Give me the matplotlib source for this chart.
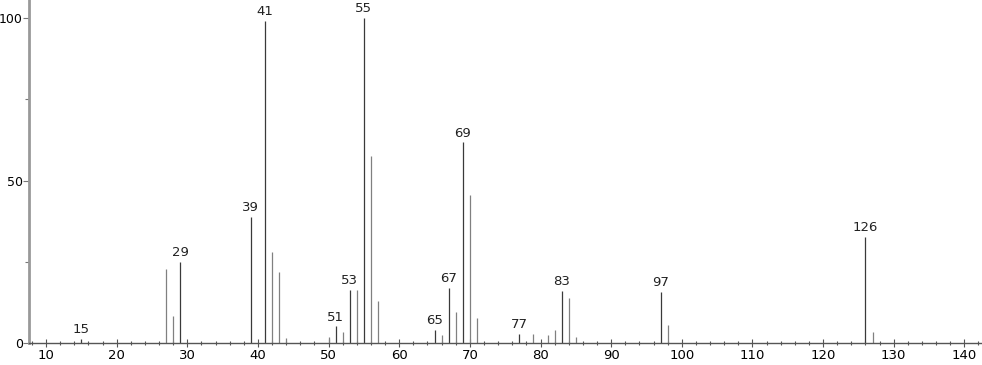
import matplotlib

matplotlib.use("Agg")

import matplotlib.pyplot as plt
from matplotlib.ticker import MultipleLocator

# mass spectrum peaks (m/z, relative intensity)
mz = [15, 27, 28, 29, 39, 41, 42, 43, 44, 50, 51, 52, 53, 54, 55, 56, 57,
      65, 66, 67, 68, 69, 70, 71, 77, 79, 81, 82, 83, 84, 85, 97, 98, 126, 127]
intensity = [1.3, 23.0, 8.3, 25.0, 39.0, 99.2, 28.0, 21.8, 1.5, 1.9, 5.2, 3.4,
             16.4, 16.4, 100.0, 57.7, 13.0, 4.1, 2.6, 17.0, 9.6, 61.8, 45.5,
             7.8, 3.0, 2.8, 2.6, 4.1, 16.1, 14.0, 1.9, 15.9, 5.5, 32.7, 3.6]
labelled = [15, 29, 39, 41, 51, 53, 55, 65, 67, 69, 77, 83, 97, 126]

plt.rcParams["font.family"] = ["DejaVu Sans"]

fig = plt.figure(figsize=(9.82, 3.65), dpi=100)
ax = fig.add_axes([29 / 982, 1 - 343.3 / 365, 1 - 29 / 982, 343.3 / 365])

for x, y in zip(mz, intensity):
    color = "#3a3a3a" if x in labelled else "#808080"
    ax.vlines(x, 0, y, color=color, linewidth=0.9)
    if x in labelled:
        ax.annotate(str(x), (x, y), xytext=(0, 2), textcoords="offset points",
                    ha="center", va="bottom", fontsize=9.5, color="#222222")

ax.set_xlim(7.59, 142.5)
ax.set_ylim(0, 105.6)

ax.xaxis.set_major_locator(MultipleLocator(10))
ax.xaxis.set_minor_locator(MultipleLocator(2))
ax.yaxis.set_major_locator(MultipleLocator(50))
ax.yaxis.set_minor_locator(MultipleLocator(25))

for side in ("top", "right"):
    ax.spines[side].set_visible(False)
ax.spines["left"].set_color("#999999")
ax.spines["left"].set_linewidth(2)
ax.spines["bottom"].set_color("#555555")
ax.spines["bottom"].set_linewidth(1)

ax.tick_params(axis="x", which="major", direction="inout", length=6, width=0.8,
               color="#555555", labelsize=9.5, pad=1)
ax.tick_params(axis="x", which="minor", direction="inout", length=3, width=0.8,
               color="#555555")
ax.tick_params(axis="y", which="major", direction="out", length=4, width=0.8,
               color="#777777", labelsize=9, pad=0.5)
ax.tick_params(axis="y", which="minor", direction="out", length=3, width=0.8,
               color="#777777")

fig.savefig("out.png", dpi=100)
